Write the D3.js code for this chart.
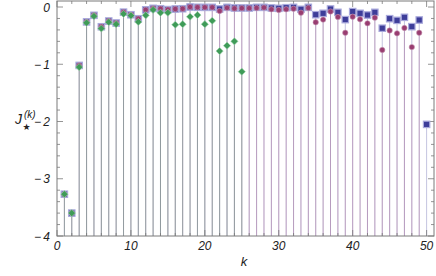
<!DOCTYPE html>
<html><head><meta charset="utf-8">
<script src="https://cdn.jsdelivr.net/npm/d3@7"></script>
<style>
html,body{margin:0;padding:0;background:#fff;}
svg{display:block;}
</style></head>
<body>
<script>
// ---- data ----
const kBlue = [1,2,3,4,5,6,7,8,9,10,11,12,13,14,15,16,17,18,19,20,21,22,23,24,25,26,27,28,29,30,31,32,33,34,35,36,37,38,39,40,41,42,43,44,45,46,47,48,49,50];
const blueVals = [-3.27,-3.60,-1.02,-0.26,-0.145,-0.345,-0.245,-0.28,-0.09,-0.135,
  -0.205,-0.05,-0.023,-0.03,-0.045,-0.035,-0.03,0.0,-0.005,-0.006,
  -0.006,-0.035,-0.006,-0.017,-0.017,-0.017,-0.006,-0.006,-0.017,-0.023,
  -0.012,-0.006,-0.04,-0.006,-0.134,-0.11,-0.035,-0.093,-0.22,-0.08,
  -0.11,-0.14,-0.093,-0.37,-0.204,-0.233,-0.18,-0.343,-0.227,-2.05];
const kPurple = kBlue.slice(0, 49);
const purpleVals = [-3.27,-3.60,-1.02,-0.26,-0.145,-0.345,-0.245,-0.28,-0.09,-0.135,
  -0.205,-0.05,-0.023,-0.03,-0.045,-0.035,-0.03,0.0,-0.005,-0.006,
  -0.006,-0.07,-0.015,-0.025,-0.02,-0.02,-0.017,-0.01,-0.04,-0.052,
  -0.04,-0.03,-0.10,-0.017,-0.267,-0.22,-0.08,-0.175,-0.45,-0.17,
  -0.215,-0.285,-0.186,-0.75,-0.41,-0.46,-0.366,-0.70,-0.45];
const kGreen = kBlue.slice(0, 25);
const greenVals = [-3.27,-3.60,-1.05,-0.275,-0.16,-0.375,-0.265,-0.30,-0.12,-0.15,
  -0.26,-0.145,-0.05,-0.10,-0.10,-0.31,-0.30,-0.17,-0.14,-0.30,
  -0.24,-0.77,-0.675,-0.60,-1.13];
const xMajor = [0,10,20,30,40,50];
const yMajor = [0,-1,-2,-3,-4];
const yLabels = ["0","\u2212\u20091","\u2212\u20092","\u2212\u20093","\u2212\u20094"];

// ---- layout ----
const W = 436, H = 276;
const L = 57, R = 434, T = 1, B = 236;
const x = d3.scaleLinear().domain([0, 51]).range([L, R]);
const y = d3.scaleLinear().domain([-4, 0.105]).range([B, T]);

const svg = d3.select("body").append("svg").attr("width", W).attr("height", H);

const colors = {blue: "#3d3d99", purple: "#993d71", green: "#3f9b58"};
const series = [
  {name: "blue", ks: kBlue, vals: blueVals},
  {name: "purple", ks: kPurple, vals: purpleVals},
  {name: "green", ks: kGreen, vals: greenVals}
];

// stems (filling to bottom)
const stems = svg.append("g");
series.forEach(s => {
  stems.selectAll(null).data(s.ks.map((k, i) => [k, s.vals[i]])).enter().append("line")
    .attr("x1", d => x(d[0])).attr("x2", d => x(d[0]))
    .attr("y1", d => y(d[1])).attr("y2", y(-4))
    .attr("stroke", colors[s.name]).attr("stroke-opacity", 0.3).attr("stroke-width", 1);
});

// frame
const frameColor = "#7a7a7a";
svg.append("rect").attr("x", L).attr("y", T).attr("width", R - L).attr("height", B - T)
  .attr("fill", "none").attr("stroke", frameColor).attr("stroke-width", 1);

// ticks
const tg = svg.append("g").attr("stroke", frameColor).attr("stroke-width", 0.8);
const xMinor = d3.range(0, 52, 2).filter(v => v % 10 !== 0);
const yMinor = d3.range(-4, 0.01, 0.2).filter(v => Math.abs(v - Math.round(v)) > 1e-6);
xMajor.forEach(v => {
  tg.append("line").attr("x1", x(v)).attr("x2", x(v)).attr("y1", B).attr("y2", B - 6);
  tg.append("line").attr("x1", x(v)).attr("x2", x(v)).attr("y1", T).attr("y2", T + 6);
});
xMinor.forEach(v => {
  tg.append("line").attr("x1", x(v)).attr("x2", x(v)).attr("y1", B).attr("y2", B - 3);
  tg.append("line").attr("x1", x(v)).attr("x2", x(v)).attr("y1", T).attr("y2", T + 3);
});
yMajor.forEach(v => {
  tg.append("line").attr("x1", L).attr("x2", L + 6).attr("y1", y(v)).attr("y2", y(v));
  tg.append("line").attr("x1", R).attr("x2", R - 6).attr("y1", y(v)).attr("y2", y(v));
});
yMinor.forEach(v => {
  tg.append("line").attr("x1", L).attr("x2", L + 3).attr("y1", y(v)).attr("y2", y(v));
  tg.append("line").attr("x1", R).attr("x2", R - 3).attr("y1", y(v)).attr("y2", y(v));
});

// tick labels
const font = "'Liberation Sans', Arial, sans-serif";
svg.selectAll(".xl").data(xMajor).enter().append("text")
  .attr("x", d => x(d)).attr("y", 250).attr("text-anchor", "middle")
  .attr("font-family", font).attr("font-style", "italic").attr("font-size", 12)
  .attr("fill", "#222").text(d => d);
svg.selectAll(".yl").data(yMajor).enter().append("text")
  .attr("x", 50).attr("y", d => y(d) + 4.5).attr("text-anchor", "end")
  .attr("font-family", font).attr("font-style", "italic").attr("font-size", 12)
  .attr("fill", "#222").text((d, i) => yLabels[i]);

// axis labels
svg.append("text").attr("x", 244).attr("y", 266).attr("text-anchor", "middle")
  .attr("font-family", font).attr("font-style", "italic").attr("font-size", 13)
  .attr("fill", "#222").text("k");
const yl = svg.append("g").attr("font-family", font).attr("fill", "#222");
yl.append("text").attr("x", 15).attr("y", 124).attr("font-style", "italic").attr("font-size", 14).text("J");
yl.append("text").attr("x", 24).attr("y", 118).attr("font-style", "italic").attr("font-size", 10).text("(k)");
yl.append("text").attr("x", 22.5).attr("y", 130).attr("font-size", 9).attr("font-family", "'DejaVu Sans'").text("\u2605");

// markers
const mg = svg.append("g");
mg.selectAll(".sq").data(kBlue.map((k, i) => [k, blueVals[i]])).enter().append("rect")
  .attr("x", d => x(d[0]) - 3.2).attr("y", d => y(d[1]) - 3.2)
  .attr("width", 6.4).attr("height", 6.4)
  .attr("fill", colors.blue).attr("stroke", "#a9a9dc").attr("stroke-width", 1.2);
mg.selectAll(".ci").data(kPurple.map((k, i) => [k, purpleVals[i]])).enter().append("circle")
  .attr("cx", d => x(d[0])).attr("cy", d => y(d[1])).attr("r", 2.7)
  .attr("fill", colors.purple).attr("stroke", "#c79ab5").attr("stroke-width", 0.6);
const dm = 3.6;
mg.selectAll(".di").data(kGreen.map((k, i) => [k, greenVals[i]])).enter().append("path")
  .attr("d", d => {
    const cx = x(d[0]), cy = y(d[1]);
    return `M${cx},${cy - dm}L${cx + dm},${cy}L${cx},${cy + dm}L${cx - dm},${cy}Z`;
  })
  .attr("fill", colors.green).attr("stroke", "#9fd1ad").attr("stroke-width", 0.6);
</script>
</body></html>
